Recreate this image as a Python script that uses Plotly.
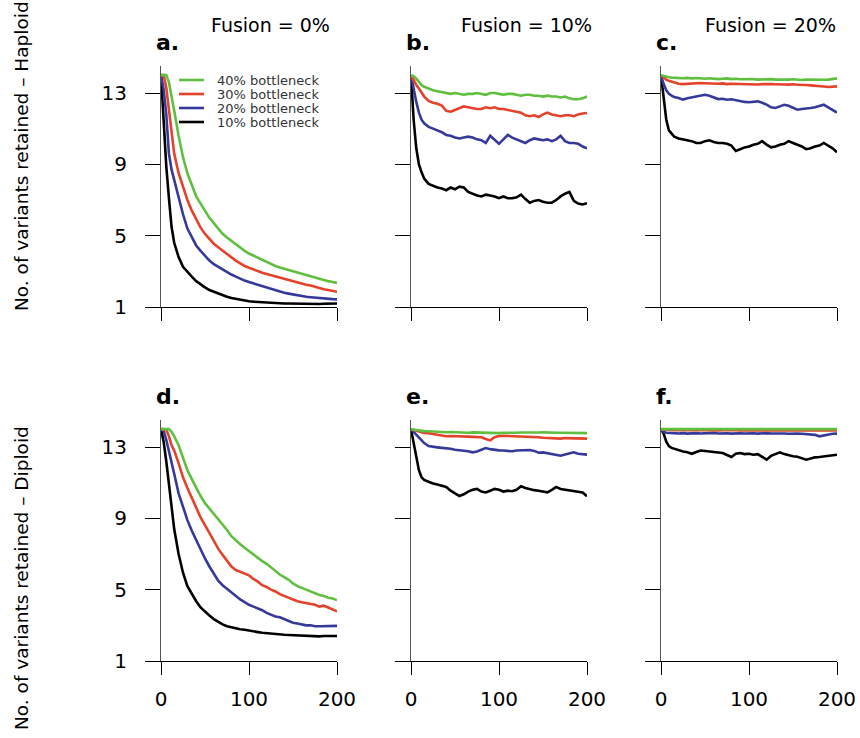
import plotly.graph_objects as go

W, H = 860, 738

# generations (x grid where values were read)
GEN = [0, 3, 6, 9, 12, 15, 20, 25, 30, 35, 40, 45, 50, 55, 60, 65, 70, 75, 80, 85, 90, 95,
       100, 105, 110, 115, 120, 125, 130, 135, 140, 145, 150, 155, 160, 165, 170, 175,
       180, 185, 190, 195, 200]

SERIES = ["40% bottleneck", "30% bottleneck", "20% bottleneck", "10% bottleneck"]
COLORS = ["#5fbf3f", "#e4422b", "#35399a", "#000000"]

# ---- Haploid, Fusion = 0% (a)
a_40 = [14.0, 14.0, 14.0, 13.6, 12.9, 12.0, 10.6, 9.4, 8.5, 7.8, 7.2, 6.8, 6.4, 6.0, 5.7, 5.4, 5.1, 4.9, 4.7, 4.5, 4.3, 4.15,
        4.0, 3.88, 3.75, 3.62, 3.5, 3.4, 3.3, 3.22, 3.15, 3.07, 3.0, 2.92, 2.85, 2.78, 2.7, 2.65, 2.6, 2.52, 2.45, 2.4, 2.35]
a_30 = [14.0, 14.0, 13.3, 12.0, 10.7, 9.6, 8.5, 7.7, 7.0, 6.4, 5.9, 5.45, 5.1, 4.8, 4.55, 4.35, 4.15, 3.95, 3.75, 3.6, 3.45, 3.3,
        3.2, 3.1, 3.0, 2.92, 2.85, 2.78, 2.7, 2.65, 2.6, 2.52, 2.45, 2.38, 2.3, 2.25, 2.2, 2.12, 2.05, 2.0, 1.95, 1.9, 1.85]
a_20 = [14.0, 13.2, 11.8, 9.6, 8.7, 8.1, 7.1, 6.2, 5.4, 4.9, 4.45, 4.15, 3.85, 3.6, 3.4, 3.25, 3.1, 2.95, 2.82, 2.7, 2.58, 2.48,
        2.4, 2.32, 2.25, 2.17, 2.1, 2.02, 1.95, 1.88, 1.8, 1.75, 1.7, 1.65, 1.6, 1.57, 1.55, 1.52, 1.5, 1.48, 1.45, 1.44, 1.43]
a_10 = [14.0, 11.2, 8.9, 7.1, 5.5, 4.6, 3.8, 3.25, 2.95, 2.7, 2.45, 2.25, 2.1, 1.95, 1.85, 1.75, 1.65, 1.58, 1.5, 1.45, 1.4, 1.36,
        1.32, 1.3, 1.28, 1.26, 1.25, 1.23, 1.22, 1.21, 1.2, 1.2, 1.19, 1.19, 1.18, 1.18, 1.18, 1.17, 1.17, 1.18, 1.18, 1.19, 1.2]

# ---- Haploid, Fusion = 10% (b)
b_40 = [14.0, 13.95, 13.8, 13.6, 13.45, 13.35, 13.25, 13.15, 13.1, 13.05, 13.0, 12.95, 13.0, 12.95, 12.9, 12.95, 12.95, 13.0, 12.95, 12.9, 13.0, 13.0,
        12.95, 12.9, 12.95, 12.95, 12.9, 12.85, 12.9, 12.9, 12.85, 12.85, 12.8, 12.85, 12.8, 12.8, 12.75, 12.8, 12.7, 12.65, 12.65, 12.7, 12.8]
b_30 = [14.0, 13.7, 13.45, 13.25, 13.0, 12.8, 12.55, 12.45, 12.4, 12.3, 12.0, 11.95, 12.05, 12.15, 12.25, 12.2, 12.15, 12.1, 12.1, 12.2, 12.15, 12.2,
        12.1, 12.1, 12.05, 12.0, 11.95, 11.9, 11.75, 11.7, 11.75, 11.65, 11.8, 11.9, 11.8, 11.75, 11.7, 11.75, 11.75, 11.7, 11.8, 11.85, 11.88]
b_20 = [14.0, 13.2, 12.5, 11.9, 11.5, 11.3, 11.1, 11.0, 10.9, 10.8, 10.65, 10.6, 10.5, 10.45, 10.5, 10.55, 10.5, 10.4, 10.35, 10.2, 10.6, 10.35,
        10.15, 10.4, 10.65, 10.5, 10.4, 10.3, 10.2, 10.35, 10.45, 10.4, 10.35, 10.4, 10.3, 10.4, 10.6, 10.3, 10.2, 10.2, 10.15, 10.0, 9.9]
b_10 = [14.0, 11.5, 9.9, 9.0, 8.55, 8.2, 7.9, 7.8, 7.7, 7.65, 7.55, 7.7, 7.6, 7.75, 7.7, 7.45, 7.35, 7.25, 7.2, 7.3, 7.25, 7.2,
        7.1, 7.2, 7.1, 7.1, 7.15, 7.3, 7.05, 6.85, 6.95, 7.0, 6.9, 6.85, 6.85, 7.0, 7.2, 7.35, 7.45, 6.95, 6.8, 6.75, 6.82]

# ---- Haploid, Fusion = 20% (c)
c_40 = [14.0, 13.95, 13.9, 13.88, 13.86, 13.85, 13.85, 13.83, 13.85, 13.82, 13.84, 13.82, 13.8, 13.83, 13.8, 13.78, 13.8, 13.82, 13.78, 13.8, 13.77, 13.78,
        13.76, 13.78, 13.75, 13.77, 13.76, 13.78, 13.75, 13.74, 13.76, 13.75, 13.77, 13.74, 13.73, 13.75, 13.74, 13.72, 13.72, 13.74, 13.75, 13.78, 13.82]
c_30 = [14.0, 13.85, 13.75, 13.68, 13.63, 13.58, 13.52, 13.5, 13.52, 13.55, 13.54, 13.56, 13.55, 13.53, 13.5, 13.52, 13.54, 13.5, 13.52, 13.51, 13.53, 13.5,
        13.52, 13.5, 13.48, 13.5, 13.52, 13.5, 13.49, 13.5, 13.48, 13.47, 13.49, 13.46, 13.47, 13.45, 13.43, 13.42, 13.38, 13.36, 13.34, 13.36, 13.37]
c_20 = [14.0, 13.5, 13.15, 12.95, 12.85, 12.78, 12.72, 12.63, 12.7, 12.75, 12.8, 12.85, 12.9, 12.85, 12.75, 12.66, 12.68, 12.62, 12.65, 12.59, 12.55, 12.5,
        12.48, 12.52, 12.53, 12.45, 12.35, 12.2, 12.16, 12.25, 12.34, 12.28, 12.15, 12.06, 12.1, 12.15, 12.16, 12.2, 12.28, 12.34, 12.2, 12.05, 11.9]
c_10 = [14.0, 12.8, 11.5, 10.9, 10.7, 10.55, 10.45, 10.4, 10.35, 10.3, 10.2, 10.2, 10.3, 10.35, 10.25, 10.2, 10.2, 10.15, 10.05, 9.75, 9.85, 9.95,
        10.0, 10.1, 10.15, 10.3, 10.1, 9.95, 10.0, 10.1, 10.15, 10.3, 10.2, 10.1, 10.0, 9.85, 9.9, 10.0, 10.05, 10.2, 10.05, 9.9, 9.68]

# ---- Diploid, Fusion = 0% (d)
d_40 = [14.0, 14.0, 14.0, 14.0, 13.85, 13.6, 13.1, 12.4, 11.7, 11.2, 10.7, 10.25, 9.85, 9.55, 9.25, 8.95, 8.7, 8.35, 8.0, 7.75, 7.55, 7.35,
        7.15, 6.95, 6.75, 6.6, 6.45, 6.25, 6.0, 5.85, 5.7, 5.55, 5.35, 5.2, 5.1, 5.0, 4.9, 4.8, 4.7, 4.65, 4.55, 4.5, 4.42]
d_30 = [14.0, 14.0, 13.95, 13.6, 13.1, 12.8, 12.1, 11.3, 10.7, 10.1, 9.6, 9.05, 8.6, 8.15, 7.7, 7.3, 6.95, 6.6, 6.3, 6.1, 6.0, 5.9,
        5.8, 5.6, 5.45, 5.25, 5.15, 5.0, 4.9, 4.75, 4.65, 4.55, 4.45, 4.35, 4.3, 4.25, 4.2, 4.15, 4.05, 4.1, 4.0, 3.9, 3.78]
d_20 = [14.0, 13.9, 13.4, 12.7, 12.05, 11.5, 10.4, 9.6, 8.9, 8.3, 7.75, 7.2, 6.75, 6.3, 5.9, 5.5, 5.25, 5.05, 4.85, 4.6, 4.45, 4.3,
        4.15, 4.05, 3.95, 3.85, 3.7, 3.6, 3.5, 3.45, 3.35, 3.25, 3.15, 3.1, 3.05, 3.0, 3.0, 2.95, 2.95, 2.95, 2.95, 2.95, 2.97]
d_10 = [14.0, 13.3, 12.2, 10.9, 9.5, 8.4, 7.0, 5.95, 5.2, 4.75, 4.35, 4.0, 3.75, 3.55, 3.35, 3.2, 3.05, 2.95, 2.88, 2.82, 2.78, 2.75,
        2.72, 2.68, 2.62, 2.58, 2.55, 2.52, 2.5, 2.48, 2.47, 2.46, 2.45, 2.42, 2.4, 2.38, 2.4, 2.39, 2.38, 2.4, 2.39, 2.4, 2.4]

# ---- Diploid, Fusion = 10% (e)
e_40 = [14.0, 13.97, 13.95, 13.93, 13.9, 13.89, 13.88, 13.86, 13.85, 13.84, 13.83, 13.84, 13.82, 13.83, 13.82, 13.8, 13.82, 13.81, 13.8, 13.79, 13.8, 13.79,
        13.78, 13.8, 13.79, 13.78, 13.8, 13.81, 13.8, 13.8, 13.82, 13.81, 13.82, 13.8, 13.79, 13.8, 13.8, 13.79, 13.8, 13.78, 13.79, 13.78, 13.78]
e_30 = [14.0, 13.95, 13.9, 13.86, 13.82, 13.79, 13.77, 13.72, 13.68, 13.64, 13.6, 13.62, 13.6, 13.6, 13.6, 13.58, 13.57, 13.56, 13.55, 13.45, 13.37, 13.55,
        13.62, 13.63, 13.62, 13.63, 13.62, 13.6, 13.6, 13.61, 13.58, 13.55, 13.52, 13.5, 13.48, 13.45, 13.47, 13.5, 13.49, 13.47, 13.46, 13.48, 13.47]
e_20 = [14.0, 13.85, 13.7, 13.55, 13.4, 13.22, 13.05, 13.0, 12.98, 12.95, 12.94, 12.9, 12.85, 12.82, 12.81, 12.76, 12.7, 12.75, 12.85, 12.94, 12.88, 12.83,
        12.81, 12.8, 12.78, 12.76, 12.8, 12.82, 12.85, 12.83, 12.78, 12.68, 12.7, 12.65, 12.6, 12.55, 12.51, 12.58, 12.65, 12.7, 12.62, 12.58, 12.57]
e_10 = [14.0, 13.2, 12.3, 11.7, 11.3, 11.15, 11.05, 10.95, 10.9, 10.85, 10.76, 10.55, 10.4, 10.25, 10.35, 10.5, 10.6, 10.65, 10.5, 10.45, 10.55, 10.65,
        10.6, 10.5, 10.55, 10.52, 10.6, 10.8, 10.7, 10.62, 10.58, 10.55, 10.5, 10.46, 10.6, 10.76, 10.65, 10.61, 10.55, 10.52, 10.5, 10.45, 10.24]

# ---- Diploid, Fusion = 20% (f)
f_40 = [14.0, 14.0, 14.0, 13.99, 14.0, 13.99, 14.0, 13.99, 14.0, 14.0, 13.99, 14.0, 13.99, 14.0, 14.0, 13.99, 14.0, 13.99, 14.0, 14.0, 13.99, 14.0,
        14.0, 13.99, 14.0, 13.99, 14.0, 14.0, 13.99, 14.0, 13.99, 14.0, 14.0, 13.99, 14.0, 13.99, 14.0, 14.0, 13.99, 14.0, 13.99, 14.0, 14.0]
f_30 = [14.0, 13.97, 13.96, 13.95, 13.95, 13.94, 13.94, 13.95, 13.93, 13.94, 13.95, 13.94, 13.93, 13.95, 13.94, 13.93, 13.94, 13.95, 13.93, 13.94, 13.93, 13.94,
        13.95, 13.93, 13.94, 13.93, 13.94, 13.95, 13.93, 13.94, 13.93, 13.94, 13.93, 13.94, 13.93, 13.94, 13.93, 13.92, 13.93, 13.94, 13.93, 13.94, 13.93]
f_20 = [14.0, 13.85, 13.8, 13.78, 13.77, 13.78, 13.76, 13.78, 13.75, 13.77, 13.78, 13.76, 13.78, 13.77, 13.79, 13.76, 13.78, 13.77, 13.75, 13.78, 13.77, 13.76,
        13.78, 13.77, 13.75, 13.77, 13.78, 13.76, 13.77, 13.75, 13.76, 13.74, 13.76, 13.75, 13.74, 13.73, 13.72, 13.68, 13.6, 13.65, 13.72, 13.74, 13.75]
f_10 = [14.0, 13.75, 13.3, 13.05, 12.95, 12.9, 12.82, 12.75, 12.7, 12.62, 12.72, 12.8, 12.78, 12.75, 12.72, 12.68, 12.66, 12.55, 12.44, 12.62, 12.66, 12.6,
        12.62, 12.57, 12.6, 12.45, 12.29, 12.5, 12.62, 12.7, 12.6, 12.52, 12.48, 12.45, 12.35, 12.29, 12.35, 12.42, 12.44, 12.48, 12.51, 12.53, 12.57]

PANELS = [
    ("a.", [a_40, a_30, a_20, a_10]),
    ("b.", [b_40, b_30, b_20, b_10]),
    ("c.", [c_40, c_30, c_20, c_10]),
    ("d.", [d_40, d_30, d_20, d_10]),
    ("e.", [e_40, e_30, e_20, e_10]),
    ("f.", [f_40, f_30, f_20, f_10]),
]
COL_TITLES = ["Fusion = 0%", "Fusion = 10%", "Fusion = 20%"]
ROW_TITLES = ["No. of variants retained \u2013 Haploid", "No. of variants retained \u2013 Diploid"]
X_TICKS = [0, 100, 200]
Y_TICKS = [1, 5, 9, 13]
X_RANGE = [0, 200]
Y_RANGE = [1, 14.5]

FONT = "DejaVu Sans"

# layout geometry (pixels)
COL_X = [(161, 337), (411, 587), (661, 837)]
ROW_Y = [(66.25, 307), (420.25, 661)]


def px(v):
    return v / W


def py(v):
    return 1 - v / H


fig = go.Figure()
layout = dict(
    width=W, height=H, margin=dict(l=0, r=0, t=0, b=0),
    paper_bgcolor="white", plot_bgcolor="white", showlegend=False,
    font=dict(family=FONT, color="black"),
)
annotations = []
shapes = []

for i, (label, series) in enumerate(PANELS):
    r, c = divmod(i, 3)
    n = i + 1
    xa = "x" if n == 1 else f"x{n}"
    ya = "y" if n == 1 else f"y{n}"
    # draw black first, green last
    for k in [3, 2, 1, 0]:
        fig.add_trace(go.Scatter(x=GEN, y=series[k], mode="lines", name=SERIES[k],
                                 line=dict(color=COLORS[k], width=2.6),
                                 xaxis=xa, yaxis=ya, hoverinfo="skip"))
    x0, x1 = COL_X[c]
    y0, y1 = ROW_Y[r]
    layout["xaxis" if n == 1 else f"xaxis{n}"] = dict(
        domain=[px(x0), px(x1)], range=X_RANGE, anchor=ya,
        tickvals=X_TICKS, ticks="outside", ticklen=13, tickwidth=1, tickcolor="black",
        showticklabels=(r == 1), tickfont=dict(size=20, family=FONT, color="black"),
        ticklabelstandoff=7,
        showline=True, linecolor="black", linewidth=1,
        showgrid=False, zeroline=False, automargin=False, fixedrange=True)
    layout["yaxis" if n == 1 else f"yaxis{n}"] = dict(
        domain=[py(y1), py(y0)], range=Y_RANGE, anchor=xa,
        tickvals=Y_TICKS, ticks="outside", ticklen=15, tickwidth=1, tickcolor="black",
        showticklabels=(c == 0), tickfont=dict(size=20, family=FONT, color="black"),
        ticklabelstandoff=14,
        showline=True, linecolor="#555555", linewidth=1.2,
        showgrid=False, zeroline=False, automargin=False, fixedrange=True)
    # panel letter
    annotations.append(dict(text=f"<b>{label}</b>", x=px(x0 - 7), y=py(y0 - 24),
                            xref="paper", yref="paper", xanchor="left", yanchor="middle",
                            showarrow=False, font=dict(size=22, family=FONT, color="black")))

# column titles
for c, t in enumerate(COL_TITLES):
    cx = [270, 526, 770][c]
    annotations.append(dict(text=t, x=px(cx), y=py(25), xref="paper", yref="paper",
                            xanchor="center", yanchor="middle", showarrow=False,
                            font=dict(size=19, family=FONT, color="black")))

# row titles
for r, t in enumerate(ROW_TITLES):
    cy = [156, 578][r]
    annotations.append(dict(text=t, x=px(21), y=py(cy), xref="paper", yref="paper",
                            xanchor="center", yanchor="middle", textangle=-90, showarrow=False,
                            font=dict(size=18.5, family=FONT, color="black")))

# legend inside panel a
for k, name in enumerate(SERIES):
    ly = 80 + 14 * k
    shapes.append(dict(type="line", xref="paper", yref="paper", x0=px(179), x1=px(204),
                       y0=py(ly), y1=py(ly), line=dict(color=COLORS[k], width=2.6)))
    annotations.append(dict(text=name, x=px(216), y=py(ly), xref="paper", yref="paper",
                            xanchor="left", yanchor="middle", showarrow=False, borderpad=0,
                            font=dict(size=13, family=FONT, color="#333333")))

layout["annotations"] = annotations
layout["shapes"] = shapes
fig.update_layout(**layout)
fig.write_html("out.html", config={"displayModeBar": False},
               post_script="document.body.style.margin='0px';")
